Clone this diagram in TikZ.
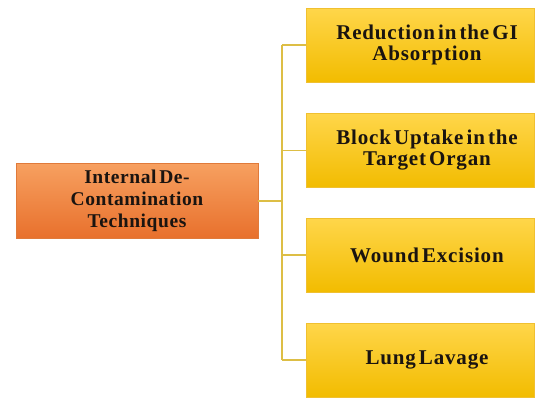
\documentclass[tikz,border=0pt]{standalone}
\usepackage{fontspec}
\setmainfont{Liberation Serif}
\newfontfamily\boxfont[LetterSpace=4,WordSpace=0.5]{Liberation Serif}
\newfontfamily\mainfont[LetterSpace=3,WordSpace=0.5]{Liberation Serif}
\newcommand{\rs}{\hspace*{14pt}}
\begin{document}
\begin{tikzpicture}[x=1pt,y=1pt,
  box/.style={rectangle, minimum width=228pt, minimum height=74pt, inner sep=2pt,
    top color=gold1, bottom color=gold2, draw=goldline, line width=0.8pt,
    align=center, text=txt, font=\boxfont\fontsize{21}{21}\selectfont\bfseries},
  mainbox/.style={rectangle, minimum width=242pt, minimum height=75pt, inner sep=2pt,
    top color=org1, bottom color=org2, draw=orgline, line width=0.8pt,
    align=center, text=txt, font=\mainfont\fontsize{19.5}{22}\selectfont\bfseries},
  link/.style={draw=linkc, line width=1.5pt}]
\definecolor{gold1}{HTML}{FFD64A}
\definecolor{gold2}{HTML}{F2BC00}
\definecolor{goldline}{HTML}{F0C030}
\definecolor{org1}{HTML}{F7A060}
\definecolor{org2}{HTML}{E8702C}
\definecolor{orgline}{HTML}{E07A3A}
\definecolor{txt}{HTML}{1A1410}
\definecolor{linkc}{HTML}{DDBE45}
\useasboundingbox (0,0) rectangle (536,-397);
\node[mainbox] (L) at (137,-201) {Internal De-\\Contamination\\Techniques};
\node[box] (R1) at (420,-45) {\rs Reduction in the GI\\\rs Absorption};
\node[box] (R2) at (420,-150.5) {\rs Block Uptake in the\\\rs Target Organ};
\node[box] (R3) at (420,-255) {\rs Wound Excision};
\node[box] (R4) at (420,-360) {\rs Lung Lavage};
\coordinate (J) at (282,-201);
\draw[link] (L.east) -- (J);
\draw[link] (J |- R1.west) -- (J |- R4.west);
\foreach \r in {R1,R2,R3,R4} {\draw[link] (J |- \r.west) -- (\r.west);}
\end{tikzpicture}
\end{document}
